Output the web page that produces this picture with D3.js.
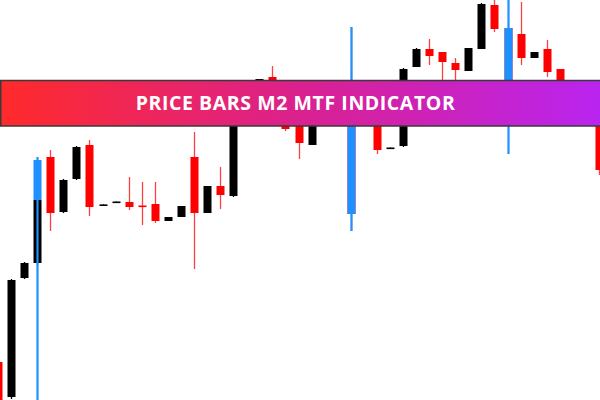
<!DOCTYPE html>
<meta charset="utf-8">
<style>
body { margin: 0; background: #fff; }
svg { display: block; }
</style>
<svg width="600" height="400"></svg>
<script src="https://d3js.org/d3.v7.min.js"></script>
<script>
// candle data (index, open, high, low, close)
var idx   = d3.range(47);
var open  = [1819,1801.5,1861,1868.5,1921.5,1894,1910.5,1927.5,1897.2,1898.75,1899,1897.25,1898,1889.5,1891.5,1921.5,1893.5,1907,1902,1948,1950,1961.5,1945,1942.5,1927.5,1941,1952.5,1950,1947.5,1940,1925.75,1927,1966.5,1975.5,1974,1968.5,1964.5,1975.5,1997.5,1986,1983,1971,1975.5,1965.5,1945,1940,1944];
var high  = [1821,1860.5,1869,1900.5,1925,1910.5,1927,1930,1897.8,1899.25,1911.5,1909,1909,1891.5,1897,1934,1907,1916.5,1948.5,1953.5,1960.5,1967,1947.5,1944,1944,1955,1956,1986.5,1951,1945,1926.25,1966,1976,1980.5,1974,1971,1976,1998.5,2002.5,1986.5,1999,1974,1980,1965.5,1950,1951,1946];
var low   = [1792.5,1800.5,1860.5,1867.5,1884.5,1893.5,1910,1892,1897.2,1898.75,1895,1887.5,1888.5,1889.5,1891.5,1865.5,1893.5,1895.5,1901.5,1946,1949,1944,1934.5,1920.5,1927.5,1940,1941,1884.5,1939,1923,1925.75,1926.5,1966.5,1967.5,1955,1955,1964.5,1975.5,1984,1945,1967.5,1971,1961.5,1944,1939,1938,1912.5];
var close = [1795,1860,1868.5,1900,1893.5,1910,1926.5,1896.5,1897.8,1899.25,1896.5,1896.75,1889.5,1891.5,1897,1893.5,1907,1902.5,1947.5,1952.5,1960.5,1945,1935.5,1928.5,1942.5,1952.5,1945,1893,1941,1925,1926.25,1965.5,1975.5,1972,1969,1965,1976,1998,1985.5,1947.5,1971,1974,1964,1945,1941,1947.5,1915];

// M2 MTF bars (blue)
var mtfIdx    = [3, 27, 39];
var mtfHigh   = [1921.5, 1986.5, 2002.5];
var mtfLow    = [1795, 1884.5, 1923];
var mtfTop    = [1920, 1950, 1986];
var mtfBottom = [1900, 1893, 1947.5];

var title = "PRICE BARS M2 MTF INDICATOR";

var svg = d3.select("svg"),
    width = +svg.attr("width"),
    height = +svg.attr("height");

var x = d3.scaleLinear().domain([0, 46]).range([-2, 599]);
var y = d3.scaleLinear().domain([1800, 2000]).range([400, 0]);
var bw = 8;

var candles = idx.map(function(i) {
  return {i: i, o: open[i], h: high[i], l: low[i], c: close[i]};
});
var mtf = mtfIdx.map(function(i, k) {
  return {i: i, h: mtfHigh[k], l: mtfLow[k], t: mtfTop[k], b: mtfBottom[k]};
});

function col(d) { return d.c >= d.o ? "#000" : "#ff0000"; }

var g = svg.append("g");

// wicks
g.selectAll(".wick")
  .data(candles)
  .enter().append("line")
    .attr("x1", function(d) { return Math.round(x(d.i)) + 0.5; })
    .attr("x2", function(d) { return Math.round(x(d.i)) + 0.5; })
    .attr("y1", function(d) { return y(d.h); })
    .attr("y2", function(d) { return y(d.l); })
    .attr("stroke", col)
    .attr("stroke-opacity", function(d) { return d.c >= d.o ? 1 : 0.75; })
    .attr("stroke-width", 1.3);

// bodies
g.selectAll(".body")
  .data(candles)
  .enter().append("rect")
    .attr("x", function(d) { return Math.round(x(d.i)) + 0.5 - bw / 2; })
    .attr("y", function(d) { return y(Math.max(d.o, d.c)); })
    .attr("width", bw)
    .attr("height", function(d) { return Math.max(1.6, Math.abs(y(d.o) - y(d.c))); })
    .attr("fill", col);

// blue MTF bars on top
g.selectAll(".mtfwick")
  .data(mtf)
  .enter().append("line")
    .attr("x1", function(d) { return Math.round(x(d.i)) + 0.5; })
    .attr("x2", function(d) { return Math.round(x(d.i)) + 0.5; })
    .attr("y1", function(d) { return y(d.h); })
    .attr("y2", function(d) { return y(d.l); })
    .attr("stroke", "#1e90ff")
    .attr("stroke-width", 2.2);

g.selectAll(".mtfbody")
  .data(mtf)
  .enter().append("rect")
    .attr("x", function(d) { return Math.round(x(d.i)) + 0.5 - bw / 2; })
    .attr("y", function(d) { return y(d.t); })
    .attr("width", bw)
    .attr("height", function(d) { return y(d.b) - y(d.t); })
    .attr("fill", "#1e90ff");

// banner
var grad = svg.append("defs").append("linearGradient")
    .attr("id", "band")
    .attr("x1", "0%").attr("x2", "100%")
    .attr("y1", "0%").attr("y2", "0%");
grad.append("stop").attr("offset", "0%").attr("stop-color", "#ff2a2a");
grad.append("stop").attr("offset", "50%").attr("stop-color", "#da2190");
grad.append("stop").attr("offset", "100%").attr("stop-color", "#b924f0");

svg.append("rect")
    .attr("x", 0.75)
    .attr("y", 80.5)
    .attr("width", width + 2)
    .attr("height", 45.5)
    .attr("fill", "url(#band)")
    .attr("stroke", "#3a3a3a")
    .attr("stroke-width", 1.5);

var t = svg.append("text")
    .attr("x", 295.5)
    .attr("y", 109.5)
    .attr("text-anchor", "middle")
    .attr("fill", "#fff")
    .style("font-family", "'Open Sans', 'DejaVu Sans', sans-serif")
    .style("font-weight", "bold")
    .style("font-size", "19.5px")
    .text(title);

// spread the letters to the banner text width seen in the picture
var w = t.node().getComputedTextLength();
if (w > 0) t.style("letter-spacing", ((319 - w) / (title.length - 1)).toFixed(2) + "px");
</script>
